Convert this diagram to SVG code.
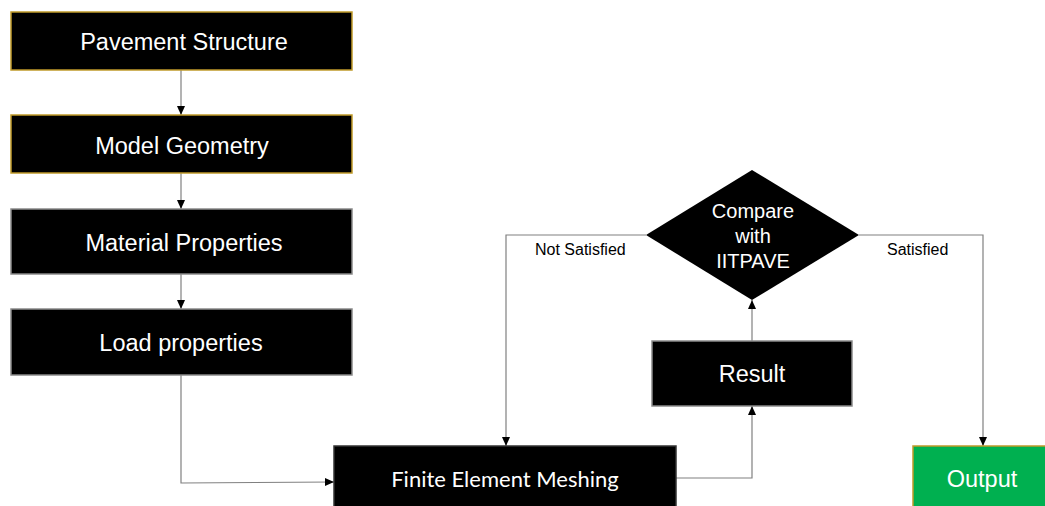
<svg xmlns="http://www.w3.org/2000/svg" width="1045" height="506" viewBox="0 0 1045 506">
  <style>
    .box { fill: #000; stroke-width: 1.5; }
    .gold { stroke: #c09a2a; }
    .grey { stroke: #8a8a8a; }
    .lbl { fill: #fff; font-family: "Liberation Sans", Arial, sans-serif; font-size: 23.5px; text-anchor: middle; }
    .cal { fill: #fff; font-family: Lato, "Liberation Sans", sans-serif; font-size: 22px; text-anchor: middle; }
    .dlbl { fill: #fff; font-family: "Liberation Sans", Arial, sans-serif; font-size: 20px; text-anchor: middle; }
    .edge { fill: none; stroke: #808080; stroke-width: 1.2; }
    .elbl { fill: #000; font-family: "Liberation Sans", Arial, sans-serif; font-size: 16px; }
  </style>
  <defs>
    <marker id="arrow" markerUnits="userSpaceOnUse" markerWidth="9" markerHeight="9" viewBox="0 0 9 9" refX="9" refY="4.5" orient="auto">
      <path d="M0,0.5 L9,4.5 L0,8.5 Z" fill="#000"/>
    </marker>
  </defs>
  <rect width="1045" height="506" fill="#fff"/>

  <!-- connectors -->
  <g id="connectors">
    <path class="edge" d="M181,70 V115" marker-end="url(#arrow)"/>
    <path class="edge" d="M181,173 V209" marker-end="url(#arrow)"/>
    <path class="edge" d="M181,274 V309" marker-end="url(#arrow)"/>
    <path class="edge" d="M181,375 V483 L334,482" marker-end="url(#arrow)"/>
    <path class="edge" d="M676,478 H752 V406" marker-end="url(#arrow)"/>
    <path class="edge" d="M752,341 V300" marker-end="url(#arrow)"/>
    <path class="edge" d="M646,235 H506 V446" marker-end="url(#arrow)"/>
    <path class="edge" d="M859,235 H983 V446" marker-end="url(#arrow)"/>
    <text class="elbl" x="535" y="255">Not Satisfied</text>
    <text class="elbl" x="887" y="255">Satisfied</text>
  </g>

  <g id="pavement-structure">
    <rect class="box gold" x="11" y="12" width="341" height="58"/>
    <text class="lbl" x="184" y="50">Pavement Structure</text>
  </g>
  <g id="model-geometry">
    <rect class="box gold" x="11" y="115" width="341" height="58"/>
    <text class="lbl" x="182" y="154">Model Geometry</text>
  </g>
  <g id="material-properties">
    <rect class="box grey" x="11" y="209" width="341" height="65"/>
    <text class="lbl" x="184" y="251">Material Properties</text>
  </g>
  <g id="load-properties">
    <rect class="box grey" x="11" y="309" width="341" height="66"/>
    <text class="lbl" x="181" y="351">Load properties</text>
  </g>
  <g id="fem">
    <rect class="box" stroke="#333" x="334" y="446" width="342" height="70"/>
    <text class="cal" x="505" y="487">Finite Element Meshing</text>
  </g>
  <g id="result">
    <rect class="box grey" x="652" y="341" width="200" height="65"/>
    <text class="lbl" x="752" y="382">Result</text>
  </g>
  <g id="compare">
    <polygon points="752,170 859,235 752,300 646,235" fill="#000"/>
    <text class="dlbl" x="753" y="218">Compare</text>
    <text class="dlbl" x="753" y="243">with</text>
    <text class="dlbl" x="753" y="268">IITPAVE</text>
  </g>
  <g id="output">
    <rect x="913" y="446" width="140" height="70" fill="#00b050" stroke="#c09a2a" stroke-width="1.5"/>
    <text class="lbl" x="982" y="487">Output</text>
  </g>
</svg>
